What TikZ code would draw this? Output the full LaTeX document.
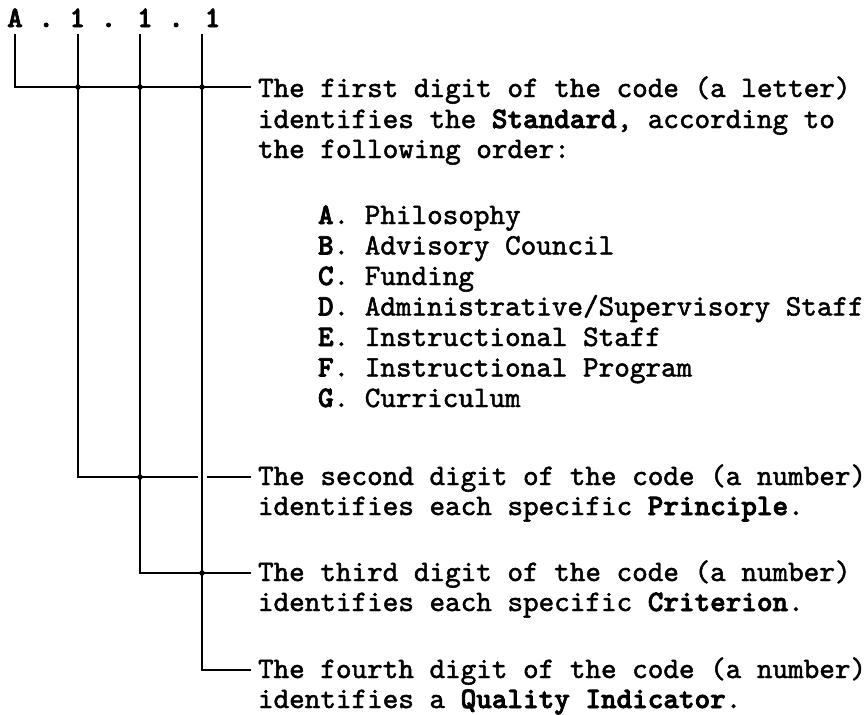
\documentclass[tikz,border=0pt]{standalone}
\usepackage{fontspec}
\newfontfamily\tw{lmmono10-regular.otf}[FakeBold=1.6,BoldFont=lmmonolt10-bold.otf,BoldFeatures={FakeBold=2.6}]
\begin{document}
\begin{tikzpicture}[x=1pt,y=-1pt,
  txt/.style={anchor=base west,inner sep=0pt,outer sep=0pt,font=\tw\fontsize{29.7}{30.5}\selectfont},
  wire/.style={line width=2.6pt,line cap=rect},
  jdot/.style={circle,fill=black,inner sep=0pt,minimum size=5.5pt}]
\useasboundingbox (0,0) rectangle (865,715);
% code
\node[txt,font=\tw\bfseries\fontsize{29.7}{30.5}\selectfont] (code) at (7.2,27) {A . 1 . 1 . 1};
% tops
\coordinate (tA) at (15,35);
\coordinate (t1) at (78,35);
\coordinate (t2) at (140,35);
\coordinate (t3) at (202,35);
% junctions
\coordinate (jA) at (15,87);
\coordinate (j1) at (78,477);
\coordinate (j2) at (140,573);
\coordinate (j3) at (202,670);
\coordinate (e1) at (250,87);
\coordinate (e2) at (250,477);
\coordinate (e3) at (250,573);
\coordinate (e4) at (250,670);
\coordinate (h1) at (197,477);
\coordinate (h2) at (208,477);
% wires
\draw[wire] (tA) -- (jA) -- (e1);
\draw[wire] (t1) -- (j1) -- (h1);
\draw[wire] (h2) -- (e2);
\draw[wire] (t2) -- (j2) -- (e3);
\draw[wire] (t3) -- (j3) -- (e4);
\node[jdot] (d1) at (78,87) {};
\node[jdot] (d2) at (140,87) {};
\node[jdot] (d3) at (202,87) {};
\node[jdot] (d4) at (140,477) {};
\node[jdot] (d5) at (202,573) {};
% texts
\node[txt] (a1) at (258,97) {The first digit of the code (a letter)};
\node[txt] (a2) at (258,128) {identifies the \textbf{Standard}, according to};
\node[txt] (a3) at (258,158) {the following order:};
\node[txt] (lA) at (318,224) {\textbf{A}. Philosophy};
\node[txt] (lB) at (318,254.5) {\textbf{B}. Advisory Council};
\node[txt] (lC) at (318,285) {\textbf{C}. Funding};
\node[txt] (lD) at (318,315.5) {\textbf{D}. Administrative/Supervisory Staff};
\node[txt] (lE) at (318,346) {\textbf{E}. Instructional Staff};
\node[txt] (lF) at (318,376.5) {\textbf{F}. Instructional Program};
\node[txt] (lG) at (318,407) {\textbf{G}. Curriculum};
\node[txt] (b1) at (258,485) {The second digit of the code (a number)};
\node[txt] (b2) at (258,515) {identifies each specific \textbf{Principle}.};
\node[txt] (c1) at (258,581) {The third digit of the code (a number)};
\node[txt] (c2) at (258,611) {identifies each specific \textbf{Criterion}.};
\node[txt] (f1) at (258,678) {The fourth digit of the code (a number)};
\node[txt] (f2) at (258,708) {identifies a \textbf{Quality Indicator}.};
\end{tikzpicture}
\end{document}
